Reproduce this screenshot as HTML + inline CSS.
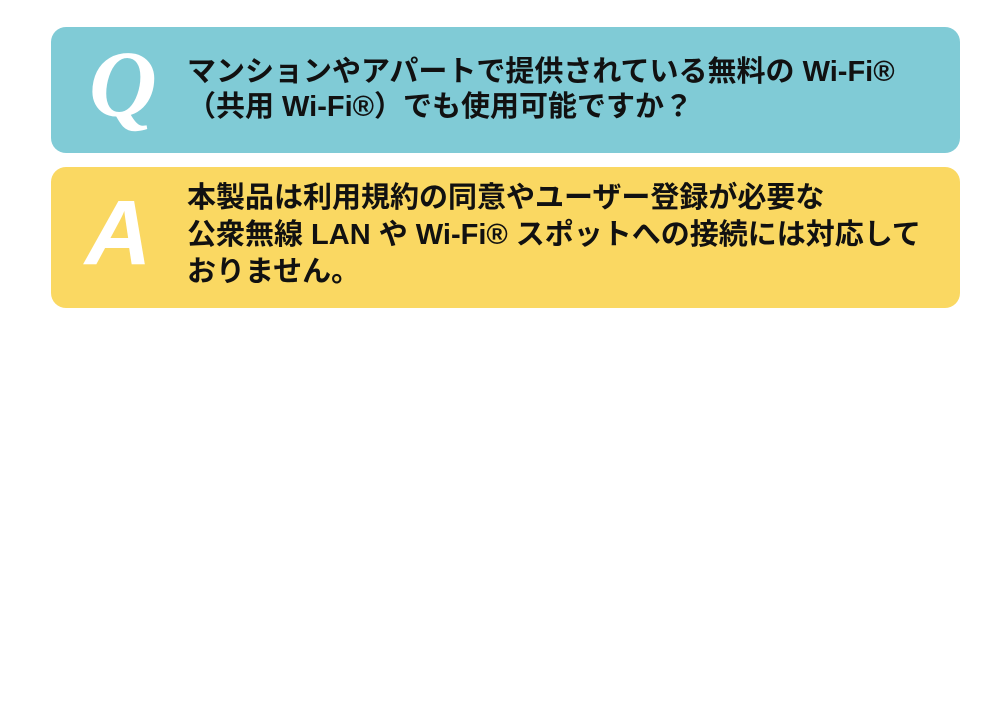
<!DOCTYPE html>
<html><head><meta charset="utf-8"><style>
body{margin:0;width:1000px;height:706px;background:#fff;position:relative;overflow:hidden;font-family:"Liberation Sans","Noto Sans CJK JP",sans-serif;}
.box{position:absolute;left:51px;width:909px;border-radius:15px;}
.q{top:27px;height:126px;background:#80cbd6;}
.a{top:167px;height:141px;background:#fad862;}
.L{position:absolute;color:#fff;font-weight:bold;font-style:italic;}
.t{position:absolute;left:136px;font-size:29px;font-weight:bold;color:#111;white-space:nowrap;}
</style></head><body>
<div class="box q">
<div class="L" style="left:38px;top:8px;font-size:94px;font-family:'Liberation Serif',serif;line-height:100px;">Q</div>
<div class="t" style="top:28px;line-height:35px;">マンションやアパートで提供されている無料の Wi-Fi®<br>（共用 Wi-Fi®）でも使用可能ですか？</div>
</div>
<div class="box a">
<div class="L" style="left:34px;top:16px;font-size:92px;line-height:100px;">A</div>
<div class="t" style="top:13px;line-height:37px;">本製品は利用規約の同意やユーザー登録が必要な<br>公衆無線 LAN や Wi-Fi® スポットへの接続には対応して<br>おりません。</div>
</div>
</body></html>
